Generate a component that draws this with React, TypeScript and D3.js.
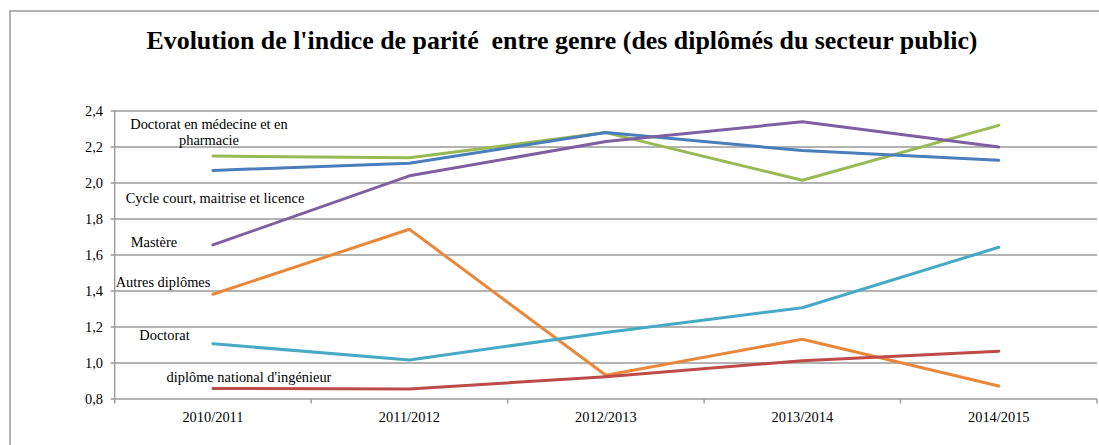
import React from "react";
import * as d3 from "d3";

const categories = ["2010/2011", "2011/2012", "2012/2013", "2013/2014", "2014/2015"];
const yTicks = [0.8, 1.0, 1.2, 1.4, 1.6, 1.8, 2.0, 2.2, 2.4];

const seriesNames = [
  "Doctorat en médecine et en pharmacie",
  "Cycle court, maitrise et licence",
  "Mastère",
  "Autres diplômes",
  "Doctorat",
  "diplôme national d'ingénieur",
];
const medecineValues = [2.15, 2.14, 2.28, 2.015, 2.32];
const cycleCourtValues = [2.07, 2.11, 2.28, 2.18, 2.127];
const mastereValues = [1.656, 2.04, 2.23, 2.34, 2.2];
const autresValues = [1.382, 1.743, 0.932, 1.132, 0.872];
const doctoratValues = [1.107, 1.017, 1.17, 1.307, 1.643];
const ingenieurValues = [0.859, 0.856, 0.924, 1.013, 1.065];

const seriesValues = [medecineValues, cycleCourtValues, mastereValues, autresValues, doctoratValues, ingenieurValues];
const seriesColors = ["#98B954", "#4A7EBB", "#7D60A0", "#E8883A", "#46AAC5", "#BE4B48"];

const labelLines = [
  { text: "Doctorat en médecine et en", cx: 209, cy: 2.33 },
  { text: "pharmacie", cx: 209, cy: 2.24 },
  { text: "Cycle court, maitrise et licence", cx: 215, cy: 1.915 },
  { text: "Mastère", cx: 154, cy: 1.675 },
  { text: "Autres diplômes", cx: 163, cy: 1.45 },
  { text: "Doctorat", cx: 164.5, cy: 1.158 },
  { text: "diplôme national d'ingénieur", cx: 249, cy: 0.925 },
];

const W = 1099;
const H = 445;
const left = 114.7;
const right = 1097;
const top = 111;
const bottom = 399;

const FONT = "Liberation Serif, Times New Roman, serif";

export default function App() {
  const x = d3.scaleBand<string>().domain(categories).range([left, right]).padding(0);
  const y = d3.scaleLinear().domain([0.8, 2.4]).range([bottom, top]);
  const fmt = (v: number) => d3.format(".1f")(v).replace(".", ",");
  const line = d3
    .line<number>()
    .x((_, i) => (x(categories[i]) as number) + x.bandwidth() / 2)
    .y((d) => y(d));

  const txt = { fontFamily: FONT } as React.CSSProperties;

  return (
    <svg width={W} height={H} style={{ position: "absolute", left: 0, top: 0, background: "#fff" }}>
      <rect x={0} y={0} width={W} height={H} fill="#fff" />
      <rect x={10} y={11} width={1200} height={600} fill="none" stroke="#8c8c8c" strokeWidth={1.3} />
      <text
        x={562}
        y={49}
        textAnchor="middle"
        fontSize={26}
        fontWeight="bold"
        textLength={831}
        lengthAdjust="spacingAndGlyphs"
        fill="#000"
        style={{ ...txt, whiteSpace: "pre" }}
      >
        {"Evolution de l'indice de parité  entre genre (des diplômés du secteur public)"}
      </text>

      {yTicks.map((t) => (
        <line key={"g" + t} x1={left - 4} x2={right} y1={y(t)} y2={y(t)} stroke="#9a9a9a" strokeWidth={1.4} />
      ))}
      <line x1={left} x2={left} y1={top} y2={bottom} stroke="#9a9a9a" strokeWidth={1.4} />
      {yTicks.map((t) => (
        <text key={"yl" + t} x={103} y={y(t) + 5} textAnchor="end" fontSize={14.4} fill="#000" style={txt}>
          {fmt(t)}
        </text>
      ))}
      {categories.map((c) => (
        <line
          key={"xt" + c}
          x1={(x(c) as number) + x.bandwidth()}
          x2={(x(c) as number) + x.bandwidth()}
          y1={bottom}
          y2={bottom + 4.5}
          stroke="#9a9a9a"
          strokeWidth={1.4}
        />
      ))}
      <line x1={left} x2={left} y1={bottom} y2={bottom + 4.5} stroke="#9a9a9a" strokeWidth={1.4} />
      {categories.map((c) => (
        <text
          key={"xl" + c}
          x={(x(c) as number) + x.bandwidth() / 2}
          y={422}
          textAnchor="middle"
          fontSize={14.4}
          fill="#000"
          style={txt}
        >
          {c}
        </text>
      ))}

      {seriesValues.map((vals, i) => (
        <path
          key={seriesNames[i]}
          d={line(vals) as string}
          fill="none"
          stroke={seriesColors[i]}
          strokeWidth={3}
          strokeLinejoin="round"
          strokeLinecap="round"
        />
      ))}

      {labelLines.map((l) => (
        <text key={l.text} x={l.cx} y={y(l.cy) + 5} textAnchor="middle" fontSize={14.4} fill="#000" style={txt}>
          {l.text}
        </text>
      ))}
    </svg>
  );
}
